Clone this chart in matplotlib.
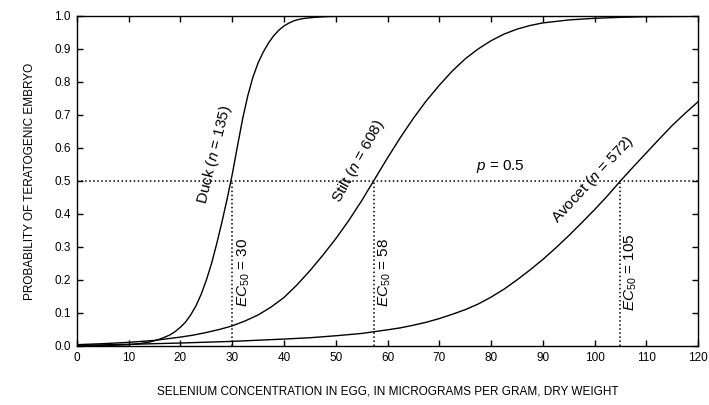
import matplotlib
matplotlib.use("Agg")
import matplotlib.pyplot as plt

# values
duck_x = [0, 5, 10, 12, 14, 15, 16, 17, 18, 19, 20, 21, 22, 23, 24, 25, 26, 27, 28, 29, 30,
          31, 32, 33, 34, 35, 36, 37, 38, 39, 40, 41, 42, 43, 44, 46, 48, 50, 55, 60, 120]
duck_p = [0.0, 0.001, 0.004, 0.007, 0.012, 0.016, 0.021, 0.027, 0.034, 0.044, 0.057, 0.073,
          0.095, 0.122, 0.157, 0.2, 0.25, 0.31, 0.375, 0.445, 0.52, 0.605, 0.688, 0.758, 0.815,
          0.858, 0.891, 0.918, 0.94, 0.957, 0.97, 0.979, 0.986, 0.99, 0.993, 0.996, 0.998,
          0.999, 1.0, 1.0, 1.0]

stilt_x = [0, 5, 10, 15, 20, 22.5, 25, 27.5, 30, 32.5, 35, 37.5, 40, 42.5, 45, 47.5, 50, 52.5,
           55, 57.5, 60, 62.5, 65, 67.5, 70, 72.5, 75, 77.5, 80, 82.5, 85, 87.5, 90, 95, 100,
           105, 110, 120]
stilt_p = [0.004, 0.007, 0.011, 0.017, 0.027, 0.033, 0.041, 0.05, 0.061, 0.076, 0.094, 0.118,
           0.147, 0.185, 0.228, 0.275, 0.325, 0.38, 0.44, 0.505, 0.57, 0.632, 0.69, 0.743,
           0.79, 0.833, 0.87, 0.9, 0.925, 0.945, 0.96, 0.971, 0.979, 0.988, 0.993, 0.996,
           0.998, 0.999]

avocet_x = [0, 10, 20, 30, 40, 45, 50, 55, 60, 62.5, 65, 67.5, 70, 72.5, 75, 77.5, 80, 82.5,
            85, 87.5, 90, 92.5, 95, 97.5, 100, 102.5, 105, 107.5, 110, 112.5, 115, 117.5, 120]
avocet_p = [0.002, 0.005, 0.009, 0.014, 0.021, 0.025, 0.031, 0.038, 0.049, 0.055, 0.063, 0.072,
            0.083, 0.096, 0.11, 0.127, 0.148, 0.172, 0.2, 0.23, 0.262, 0.297, 0.334, 0.373,
            0.413, 0.455, 0.5, 0.543, 0.585, 0.627, 0.668, 0.705, 0.74]

ec50_x = [30, 57.4, 105]
ec50_labels = ["30", "58", "105"]
species = ["Duck", "Stilt", "Avocet"]
sample_n = [135, 608, 572]

plt.rcParams["font.family"] = ["Liberation Sans", "DejaVu Sans"]
plt.rcParams["mathtext.fontset"] = "custom"
plt.rcParams["mathtext.rm"] = "Liberation Sans"
plt.rcParams["mathtext.it"] = "Liberation Sans:italic"

fig, ax = plt.subplots(figsize=(7.09, 4.05), dpi=100)
fig.subplots_adjust(left=0.1086, right=0.9845, bottom=0.1457, top=0.9605)

for xs, ps in [(duck_x, duck_p), (stilt_x, stilt_p), (avocet_x, avocet_p)]:
    ax.plot(xs, ps, color="black", linewidth=1.0)

# p = 0.5 reference lines
ax.plot([0, 120], [0.5, 0.5], color="black", linestyle=":", linewidth=1.1)
for xe in ec50_x:
    ax.plot([xe, xe], [0, 0.5], color="black", linestyle=":", linewidth=1.1)

ax.text(81.9, 0.545, "$p$ = 0.5", fontsize=11, ha="center", va="center")

# curve labels
label_pos = [(26.5, 0.58, 76), (54.3, 0.56, 61), (99.7, 0.505, 47)]
for name, n, (lx, ly, rot) in zip(species, sample_n, label_pos):
    ax.text(lx, ly, f"{name} ($n$ = {n})", fontsize=11, rotation=rot,
            ha="center", va="center", rotation_mode="anchor")

ec_label_x = [32.3, 59.5, 107.0]
for lx, lab in zip(ec_label_x, ec50_labels):
    ax.text(lx, 0.224, "$EC_{50}$ = " + lab, fontsize=11, rotation=90,
            ha="center", va="center")

ax.set_xlim(0, 120)
ax.set_ylim(0, 1)
ax.set_xticks(range(0, 121, 10))
ax.set_yticks([i / 10 for i in range(11)])
ax.set_yticklabels([f"{i / 10:.1f}" for i in range(11)])
ax.tick_params(direction="in", top=True, right=True, length=4, width=1,
               labelsize=8.5, pad=4.5)
for s in ax.spines.values():
    s.set_linewidth(1.0)

ax.set_xlabel("SELENIUM CONCENTRATION IN EGG, IN MICROGRAMS PER GRAM, DRY WEIGHT",
              fontsize=8.5, labelpad=15)
ax.set_ylabel("PROBABILITY OF TERATOGENIC EMBRYO", fontsize=8.5, labelpad=13)

plt.savefig("out.png", dpi=100)
plt.close()
